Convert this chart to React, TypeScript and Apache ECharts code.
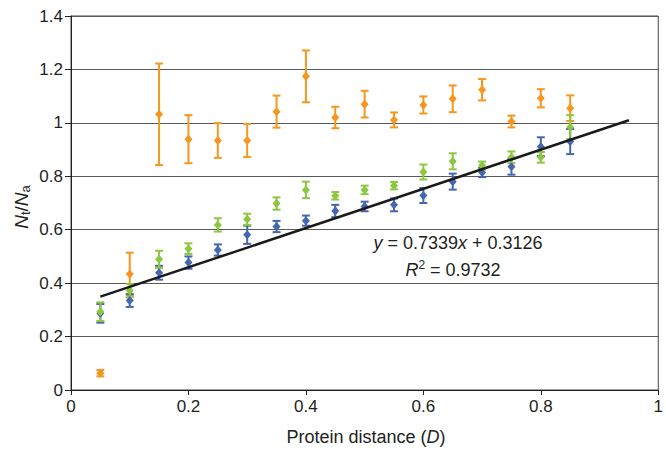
import React, { useEffect, useRef } from 'react';
import * as echarts from 'echarts';

const xValues = [0.05, 0.1, 0.15, 0.2, 0.25, 0.3, 0.35, 0.4, 0.45, 0.5, 0.55, 0.6, 0.65, 0.7, 0.75, 0.8, 0.85];

const orangeMean = [0.063, 0.434, 1.032, 0.939, 0.934, 0.934, 1.042, 1.174, 1.02, 1.07, 1.011, 1.067, 1.09, 1.124, 1.005, 1.092, 1.055];
const orangeErr = [0.012, 0.08, 0.19, 0.09, 0.065, 0.062, 0.06, 0.097, 0.04, 0.05, 0.028, 0.032, 0.05, 0.04, 0.022, 0.034, 0.048];

const blueMean = [0.287, 0.335, 0.439, 0.477, 0.524, 0.581, 0.612, 0.634, 0.67, 0.687, 0.693, 0.728, 0.78, 0.814, 0.836, 0.911, 0.93];
const blueErr = [0.035, 0.024, 0.026, 0.023, 0.021, 0.034, 0.021, 0.019, 0.023, 0.018, 0.024, 0.028, 0.03, 0.017, 0.03, 0.035, 0.047];

const greenMean = [0.293, 0.372, 0.489, 0.529, 0.618, 0.639, 0.698, 0.749, 0.727, 0.749, 0.765, 0.816, 0.856, 0.84, 0.871, 0.871, 0.984];
const greenErr = [0.035, 0.025, 0.032, 0.02, 0.025, 0.021, 0.023, 0.031, 0.014, 0.016, 0.014, 0.028, 0.03, 0.015, 0.022, 0.02, 0.045];

const trendSlope = 0.7339;
const trendIntercept = 0.3126;
const trendX = [0.05, 0.95];

const ORANGE = '#F7961F';
const BLUE = '#4566B0';
const GREEN = '#8DC641';
const TEXT = '#231F20';
const FONT = '"Liberation Sans", Arial, Helvetica, sans-serif';

function errorSeries(mean: number[], err: number[], color: string) {
  return {
    type: 'custom',
    data: xValues.map((x, i) => [x, mean[i], err[i]]),
    encode: { x: 0, y: 1 },
    renderItem: (params: any, api: any) => {
      const x = api.value(0);
      const y = api.value(1);
      const e = api.value(2);
      const top = api.coord([x, y + e]);
      const bot = api.coord([x, y - e]);
      const cap = 4;
      const style = { stroke: color, lineWidth: 2 };
      return {
        type: 'group',
        children: [
          { type: 'line', shape: { x1: top[0], y1: top[1], x2: bot[0], y2: bot[1] }, style },
          { type: 'line', shape: { x1: top[0] - cap, y1: top[1], x2: top[0] + cap, y2: top[1] }, style },
          { type: 'line', shape: { x1: bot[0] - cap, y1: bot[1], x2: bot[0] + cap, y2: bot[1] }, style },
        ],
      };
    },
    z: 2,
  };
}

function markerSeries(mean: number[], color: string) {
  return {
    type: 'scatter',
    data: xValues.map((x, i) => [x, mean[i]]),
    symbol: 'diamond',
    symbolSize: [8, 9],
    itemStyle: { color, opacity: 1 },
    z: 2,
  };
}

export default function App() {
  const ref = useRef<HTMLDivElement>(null);
  useEffect(() => {
    if (!ref.current) return;
    const chart = echarts.init(ref.current, undefined, { renderer: 'svg' });
    const option: any = {
      animation: false,
      backgroundColor: '#ffffff',
      textStyle: { fontFamily: FONT },
      grid: {
        left: 71,
        right: 4,
        top: 16,
        bottom: 61,
        show: true,
        borderColor: '#444',
        borderWidth: 1,
      },
      xAxis: {
        type: 'value',
        min: 0,
        max: 1,
        interval: 0.2,
        axisLine: { show: true, lineStyle: { color: '#222', width: 1 } },
        axisTick: { show: true, length: 5, lineStyle: { color: '#222' } },
        axisLabel: { color: TEXT, fontSize: 17, margin: 8, fontFamily: FONT },
        splitLine: { show: false },
      },
      yAxis: {
        type: 'value',
        min: 0,
        max: 1.4,
        interval: 0.2,
        axisLine: { show: true, lineStyle: { color: '#222', width: 1 } },
        axisTick: { show: true, length: 6, lineStyle: { color: '#222' } },
        axisLabel: { color: TEXT, fontSize: 17, margin: 8, fontFamily: FONT },
        splitLine: { show: true, lineStyle: { color: '#5a5a5a', width: 1 } },
      },
      graphic: [
        {
          type: 'text',
          x: 21,
          y: 207,
          rotation: Math.PI / 2,
          style: {
            text: '{i|N}{s|t}{n|/}{i|N}{s|a}',
            align: 'center',
            verticalAlign: 'middle',
            fill: TEXT,
            rich: {
              i: { fontSize: 19, fontStyle: 'italic', fontFamily: FONT, fill: TEXT, lineHeight: 22 },
              n: { fontSize: 19, fontFamily: FONT, fill: TEXT, lineHeight: 22 },
              s: { fontSize: 13, fontFamily: FONT, fill: TEXT, verticalAlign: 'bottom', lineHeight: 22 },
            },
          },
        },
        {
          type: 'text',
          x: 366,
          y: 437,
          style: {
            text: '{n|Protein distance (}{i|D}{n|)}',
            align: 'center',
            verticalAlign: 'middle',
            fill: TEXT,
            rich: {
              n: { fontSize: 18, fontFamily: FONT, fill: TEXT },
              i: { fontSize: 18, fontStyle: 'italic', fontFamily: FONT, fill: TEXT },
            },
          },
        },
        {
          type: 'text',
          x: 458,
          y: 243,
          style: {
            text: '{i|y}{n| = 0.7339}{i|x}{n| + 0.3126}',
            align: 'center',
            verticalAlign: 'middle',
            fill: TEXT,
            rich: {
              n: { fontSize: 18, fontFamily: FONT, fill: TEXT },
              i: { fontSize: 18, fontStyle: 'italic', fontFamily: FONT, fill: TEXT },
            },
          },
        },
        {
          type: 'text',
          x: 453,
          y: 270,
          style: {
            text: '{i|R}{p|2}{n| = 0.9732}',
            align: 'center',
            verticalAlign: 'middle',
            fill: TEXT,
            rich: {
              n: { fontSize: 18, fontFamily: FONT, fill: TEXT, lineHeight: 22 },
              i: { fontSize: 18, fontStyle: 'italic', fontFamily: FONT, fill: TEXT, lineHeight: 22 },
              p: { fontSize: 12, fontFamily: FONT, fill: TEXT, verticalAlign: 'top', lineHeight: 22 },
            },
          },
        },
      ],
      series: [
        errorSeries(orangeMean, orangeErr, ORANGE),
        markerSeries(orangeMean, ORANGE),
        errorSeries(blueMean, blueErr, BLUE),
        markerSeries(blueMean, BLUE),
        errorSeries(greenMean, greenErr, GREEN),
        markerSeries(greenMean, GREEN),
        {
          type: 'line',
          data: trendX.map((x) => [x, trendIntercept + trendSlope * x]),
          symbol: 'none',
          lineStyle: { color: '#1a1a1a', width: 2.5 },
          z: 3,
        },
      ],
    };
    chart.setOption(option);
    return () => chart.dispose();
  }, []);
  return <div ref={ref} style={{ width: 666, height: 451, position: 'absolute', left: 0, top: 0 }} />;
}
